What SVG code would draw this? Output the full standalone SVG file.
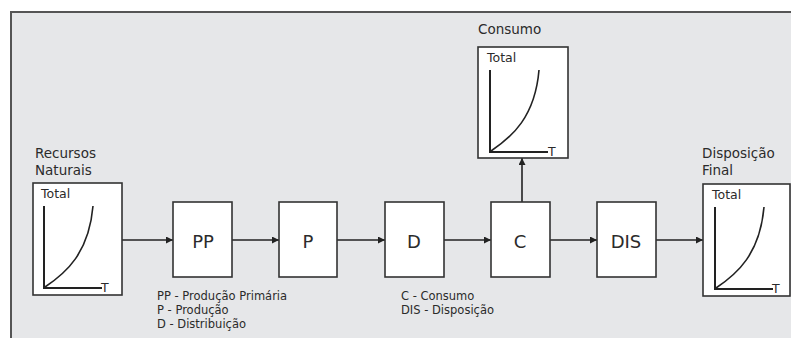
<svg xmlns="http://www.w3.org/2000/svg" xmlns:xlink="http://www.w3.org/1999/xlink" width="791" height="338" viewBox="0 0 791 338">
<style>
  .frame { fill: #e6e7e9; stroke: #555; stroke-width: 2; }
  .box { fill: #ffffff; stroke: #333; stroke-width: 1.6; }
  .axis { fill: none; stroke: #222; stroke-width: 2; }
  .curve { fill: none; stroke: #222; stroke-width: 1.6; }
  .conn { fill: none; stroke: #222; stroke-width: 1.6; }
  text { font-family: "DejaVu Sans", "Liberation Sans", sans-serif; fill: #2b2b2b; }
  .title { font-size: 13.5px; }
  .small { font-size: 12.5px; }
  .big { font-size: 18px; text-anchor: middle; }
  .legend { font-size: 11.5px; }
</style>
<defs>
  <marker id="arrow" viewBox="0 0 10 10" refX="10" refY="5" markerWidth="10" markerHeight="7" markerUnits="userSpaceOnUse" orient="auto">
    <path d="M0,0 L10,5 L0,10 Z" fill="#222"/>
  </marker>
  <g id="graph">
    <path class="axis" d="M11,23 V105 H69"/>
    <path class="curve" d="M12,104 C33,90 56,70 60,23"/>
  </g>
</defs>
<rect width="791" height="338" fill="#ffffff"/>
<rect class="frame" x="11" y="12" width="800" height="340"/>

<g id="connectors">
  <line class="conn" x1="122" y1="240" x2="173" y2="240" marker-end="url(#arrow)"/>
  <line class="conn" x1="232" y1="240" x2="279" y2="240" marker-end="url(#arrow)"/>
  <line class="conn" x1="337" y1="240" x2="385" y2="240" marker-end="url(#arrow)"/>
  <line class="conn" x1="444" y1="240" x2="491" y2="240" marker-end="url(#arrow)"/>
  <line class="conn" x1="550" y1="240" x2="597" y2="240" marker-end="url(#arrow)"/>
  <line class="conn" x1="656" y1="240" x2="703" y2="240" marker-end="url(#arrow)"/>
  <line class="conn" x1="522" y1="202" x2="522" y2="158" marker-end="url(#arrow)"/>
</g>

<g id="recursos-naturais">
  <text class="title" x="35" y="158">Recursos</text>
  <text class="title" x="35" y="175">Naturais</text>
  <rect class="box" x="33" y="183" width="89" height="112"/>
  <use xlink:href="#graph" transform="translate(33,183)"/>
  <text class="small" x="41" y="198">Total</text>
  <text class="small" x="101" y="292">T</text>
</g>

<g id="pp">
  <rect class="box" x="173" y="202" width="59" height="75"/>
  <text class="big" x="203" y="248">PP</text>
</g>

<g id="p">
  <rect class="box" x="279" y="202" width="58" height="75"/>
  <text class="big" x="308" y="248">P</text>
</g>

<g id="d">
  <rect class="box" x="385" y="202" width="59" height="75"/>
  <text class="big" x="414" y="248">D</text>
</g>

<g id="c">
  <rect class="box" x="491" y="202" width="59" height="75"/>
  <text class="big" x="520" y="248">C</text>
</g>

<g id="dis">
  <rect class="box" x="597" y="202" width="59" height="75"/>
  <text class="big" x="626" y="248">DIS</text>
</g>

<g id="consumo">
  <text class="title" x="478" y="34">Consumo</text>
  <rect class="box" x="478" y="47" width="90" height="111"/>
  <use xlink:href="#graph" transform="translate(479,47)"/>
  <text class="small" x="487" y="62">Total</text>
  <text class="small" x="548" y="156">T</text>
</g>

<g id="disposicao-final">
  <text class="title" x="702" y="158">Disposição</text>
  <text class="title" x="702" y="175">Final</text>
  <rect class="box" x="703" y="184" width="87" height="112"/>
  <use xlink:href="#graph" transform="translate(704,184)"/>
  <text class="small" x="712" y="199">Total</text>
  <text class="small" x="772" y="293">T</text>
</g>

<g id="legend-left">
  <text class="legend" x="157" y="300">PP - Produção Primária</text>
  <text class="legend" x="157" y="314">P - Produção</text>
  <text class="legend" x="157" y="328">D - Distribuição</text>
</g>

<g id="legend-right">
  <text class="legend" x="401" y="300">C - Consumo</text>
  <text class="legend" x="401" y="314">DIS - Disposição</text>
</g>
</svg>
